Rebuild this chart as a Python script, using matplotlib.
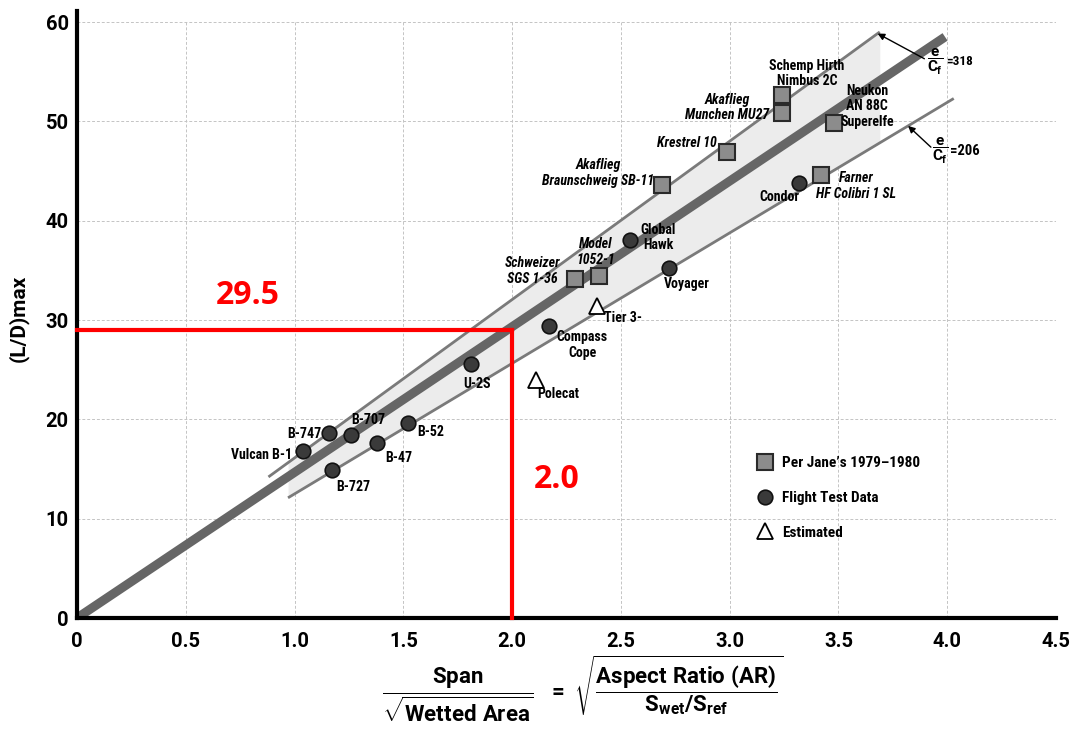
import matplotlib
matplotlib.use('Agg')
import matplotlib.pyplot as plt
from matplotlib import font_manager as fm
from matplotlib.lines import Line2D
import numpy as np

# ---------------- data ----------------
sq_names = ['Schemp Hirth\nNimbus 2C', 'Akaflieg\nMunchen MU27', 'Neukon\nAN 88C\nSuperelfe',
            'Krestrel 10', 'Akaflieg\nBraunschweig SB-11', 'Farner\nHF Colibri 1 SL',
            'Schweizer\nSGS 1-36', 'Model\n1052-1']
sq_x = [3.24, 3.24, 3.48, 2.99, 2.69, 3.42, 2.29, 2.40]
sq_y = [52.7, 50.8, 49.8, 46.9, 43.6, 44.6, 34.1, 34.4]

circ_names = ['Condor', 'Global\nHawk', 'Voyager', 'Compass\nCope', 'U-2S', 'B-747', 'B-707',
              'Vulcan B-1', 'B-52', 'B-47', 'B-727']
circ_x = [3.32, 2.54, 2.72, 2.17, 1.81, 1.16, 1.26, 1.04, 1.52, 1.38, 1.17]
circ_y = [43.8, 38.1, 35.2, 29.4, 25.6, 18.6, 18.4, 16.8, 19.6, 17.6, 14.9]

tri_names = ['Tier 3-', 'Polecat']
tri_x = [2.39, 2.11]
tri_y = [31.4, 24.0]

# trend lines (end points)
thick_x = [0.0, 3.99]
thick_y = [0.0, 58.5]
upper_x = [0.88, 3.69]   # e/Cf = 318
upper_y = [14.2, 59.0]
lower_x = [0.97, 4.03]   # e/Cf = 206
lower_y = [12.1, 52.3]
upper_label = '=318'
lower_label = '=206'

# red reading lines
red_x = 2.0
red_y = 29.0
red_x_text = '2.0'
red_y_text = '29.5'

x_ticks = [0, 0.5, 1.0, 1.5, 2.0, 2.5, 3.0, 3.5, 4.0, 4.5]
x_tick_labels = ['0', '0.5', '1.0', '1.5', '2.0', '2.5', '3.0', '3.5', '4.0', '4.5']
y_ticks = [0, 10, 20, 30, 40, 50, 60]
y_tick_labels = ['0', '10', '20', '30', '40', '50', '60']

legend_labels = ["Per Jane\u2019s 1979\u20131980", 'Flight Test Data', 'Estimated']

# ---------------- label placement (pixel offsets) ----------------
label_pos = {
    'Schemp Hirth\nNimbus 2C': (25, 21, 'center', 'normal'),
    'Akaflieg\nMunchen MU27': (-55, 6, 'center', 'italic'),
    'Neukon\nAN 88C\nSuperelfe': (33, 17, 'center', 'normal'),
    'Krestrel 10': (-11, 9, 'right', 'italic'),
    'Akaflieg\nBraunschweig SB-11': (-64, 12, 'center', 'italic'),
    'Farner\nHF Colibri 1 SL': (35, -11, 'center', 'italic'),
    'Schweizer\nSGS 1-36': (-43, 8, 'center', 'italic'),
    'Model\n1052-1': (-3, 24, 'center', 'italic'),
    'Condor': (-20, -14, 'center', 'normal'),
    'Global\nHawk': (11, 2, 'left', 'normal'),
    'Voyager': (18, -16, 'center', 'normal'),
    'Compass\nCope': (33, -19, 'center', 'normal'),
    'U-2S': (6, -20, 'center', 'normal'),
    'B-747': (-8, -1, 'right', 'normal'),
    'B-707': (0, 15, 'left', 'normal'),
    'Vulcan B-1': (-11, -4, 'right', 'normal'),
    'B-52': (10, -9, 'left', 'normal'),
    'B-47': (8, -15, 'left', 'normal'),
    'B-727': (5, -17, 'left', 'normal'),
    'Tier 3-': (7, -12, 'left', 'normal'),
    'Polecat': (1, -14, 'left', 'normal'),
}

# ---------------- fonts ----------------
avail = {f.name for f in fm.fontManager.ttflist}
NARROW = None
for cand in ['Liberation Sans Narrow', 'Roboto Condensed', 'Open Sans Condensed',
             'Noto Sans Condensed', 'DejaVu Sans Condensed']:
    if cand in avail:
        NARROW = cand
        break
if NARROW is None:
    NARROW = 'Roboto' if 'Roboto' in avail else 'Liberation Sans'
AXFONT = 'Roboto' if 'Roboto' in avail else ('Lato' if 'Lato' in avail else 'DejaVu Sans')
plt.rcParams['font.family'] = [NARROW, 'DejaVu Sans']
plt.rcParams['font.weight'] = 'bold'
plt.rcParams['mathtext.fontset'] = 'custom'
plt.rcParams['mathtext.rm'] = AXFONT + ':bold'
plt.rcParams['mathtext.it'] = AXFONT + ':bold'
plt.rcParams['mathtext.bf'] = AXFONT + ':bold'
plt.rcParams['mathtext.sf'] = AXFONT + ':bold'
RED_FONT = 'Open Sans' if 'Open Sans' in avail else 'DejaVu Sans'

# ---------------- figure ----------------
fig = plt.figure(figsize=(10.72, 7.29), dpi=100)
ax = fig.add_axes([77 / 1072, 111 / 729, 979 / 1072, 596 / 729])
ax.set_xlim(0, 4.5)
ax.set_ylim(0, 60)

ax.set_xticks(x_ticks)
ax.set_xticklabels(x_tick_labels)
ax.set_yticks(y_ticks)
ax.set_yticklabels(y_tick_labels)
ax.tick_params(length=0, labelsize=14.5)
ax.tick_params(axis='x', pad=10)
ax.tick_params(axis='y', pad=6)
for t in ax.get_xticklabels() + ax.get_yticklabels():
    t.set_fontweight('bold')
    t.set_family([AXFONT, 'DejaVu Sans'])

ax.grid(True, color='#c4c4c4', lw=0.7, ls=(0, (3, 2)))
ax.set_axisbelow(True)
for s in ['top', 'right', 'left']:
    ax.spines[s].set_visible(False)
ax.spines['bottom'].set_linewidth(3)
ax.spines['bottom'].set_color('black')
ax.add_line(Line2D([0, 0], [0, 1.018], transform=ax.transAxes, color='black', lw=3,
                   clip_on=False, zorder=5))

# shaded band between thin lines
lo_slope = (lower_y[1] - lower_y[0]) / (lower_x[1] - lower_x[0])
up_slope = (upper_y[1] - upper_y[0]) / (upper_x[1] - upper_x[0])
bx = np.linspace(lower_x[0], upper_x[1], 50)
up = upper_y[0] + up_slope * (bx - upper_x[0])
lo = lower_y[0] + lo_slope * (bx - lower_x[0])
ax.fill_between(bx, lo, up, color='#ececec', lw=0, zorder=1)

ax.plot(thick_x, thick_y, color='#666666', lw=6.5, solid_capstyle='butt', zorder=2)
ax.plot(upper_x, upper_y, color='#7a7a7a', lw=2, solid_capstyle='butt', zorder=2)
ax.plot(lower_x, lower_y, color='#7a7a7a', lw=2, solid_capstyle='butt', zorder=2)

# red reading lines
ax.plot([0, red_x], [red_y, red_y], color='#ff0000', lw=3, zorder=6, clip_on=False)
ax.plot([red_x, red_x], [0, red_y], color='#ff0000', lw=3, zorder=6, clip_on=False)
ax.text(0.64, 30.8, red_y_text, color='#ff0000', fontsize=23, fontweight='bold',
        family=RED_FONT, ha='left', va='bottom', zorder=7)
ax.text(2.1, 12.3, red_x_text, color='#ff0000', fontsize=23, fontweight='bold',
        family=RED_FONT, ha='left', va='bottom', zorder=7)

# markers
ax.plot(sq_x, sq_y, ls='none', marker='s', ms=11, mfc='#8c8c8c', mec='#2a2a2a', mew=1.5, zorder=4)
ax.plot(circ_x, circ_y, ls='none', marker='o', ms=10.5, mfc='#3a3a3a', mec='#111111', mew=1.2, zorder=4)
ax.plot(tri_x, tri_y, ls='none', marker='^', ms=11, mfc='white', mec='black', mew=1.3, zorder=4)

for names, xs, ys in [(sq_names, sq_x, sq_y), (circ_names, circ_x, circ_y), (tri_names, tri_x, tri_y)]:
    for n, x, y in zip(names, xs, ys):
        dx, dy, ha, st = label_pos[n]
        ax.annotate(n, (x, y), xytext=(dx, dy), textcoords='offset pixels',
                    ha=ha, va='center', multialignment='center', fontsize=10,
                    fontweight='bold', style=st, zorder=5, linespacing=1.15)

# e/Cf annotations
frac = r'$\dfrac{e}{C_{\mathrm{f}}}$'
tip_u_x = 3.68
tip_u_y = upper_y[0] + up_slope * (tip_u_x - upper_x[0])
ax.annotate('', xy=(tip_u_x, tip_u_y), xytext=(3.895, 56.3),
            arrowprops=dict(arrowstyle='-|>', color='black', lw=1.0, mutation_scale=10,
                            shrinkA=0, shrinkB=0))
ax.text(3.945, 56.0, frac, ha='center', va='center', fontsize=11)
ax.text(3.995, 56.0, upper_label, ha='left', va='center', fontsize=9.5, fontweight='bold')

tip_l_x = 3.82
tip_l_y = lower_y[0] + lo_slope * (tip_l_x - lower_x[0])
ax.annotate('', xy=(tip_l_x, tip_l_y), xytext=(3.925, 47.4),
            arrowprops=dict(arrowstyle='-|>', color='black', lw=1.0, mutation_scale=10,
                            shrinkA=0, shrinkB=0))
ax.text(3.965, 47.0, frac, ha='center', va='center', fontsize=11)
ax.text(4.015, 47.0, lower_label, ha='left', va='center', fontsize=10.5, fontweight='bold')

# legend
handles = [
    Line2D([], [], ls='none', marker='s', ms=11, mfc='#8c8c8c', mec='#2a2a2a', mew=1.5),
    Line2D([], [], ls='none', marker='o', ms=10.5, mfc='#3a3a3a', mec='#111111', mew=1.2),
    Line2D([], [], ls='none', marker='^', ms=11, mfc='white', mec='black', mew=1.3),
]
leg = ax.legend(handles, legend_labels, loc='upper left', bbox_to_anchor=(0.695, 0.271),
                frameon=False, fontsize=11, handlelength=1.0, handletextpad=0.6,
                labelspacing=1.35, borderpad=0, borderaxespad=0)
for t in leg.get_texts():
    t.set_fontweight('bold')

# axis labels
fig.text(18 / 1072, 1 - 318 / 729, '(L/D)max', rotation=90, ha='center', va='center',
         fontsize=15, fontweight='bold', family=[AXFONT, 'DejaVu Sans'])
fig.text(583 / 1072, 1 - 689 / 729,
         r'$\dfrac{\mathrm{Span}}{\sqrt{\mathrm{Wetted\ Area}}}\ \ =\ '
         r'\sqrt{\dfrac{\mathrm{Aspect\ Ratio\ (AR)}}{\mathrm{S_{wet}/S_{ref}}}}$',
         ha='center', va='center', fontsize=16)

fig.savefig('out.png', dpi=100)
